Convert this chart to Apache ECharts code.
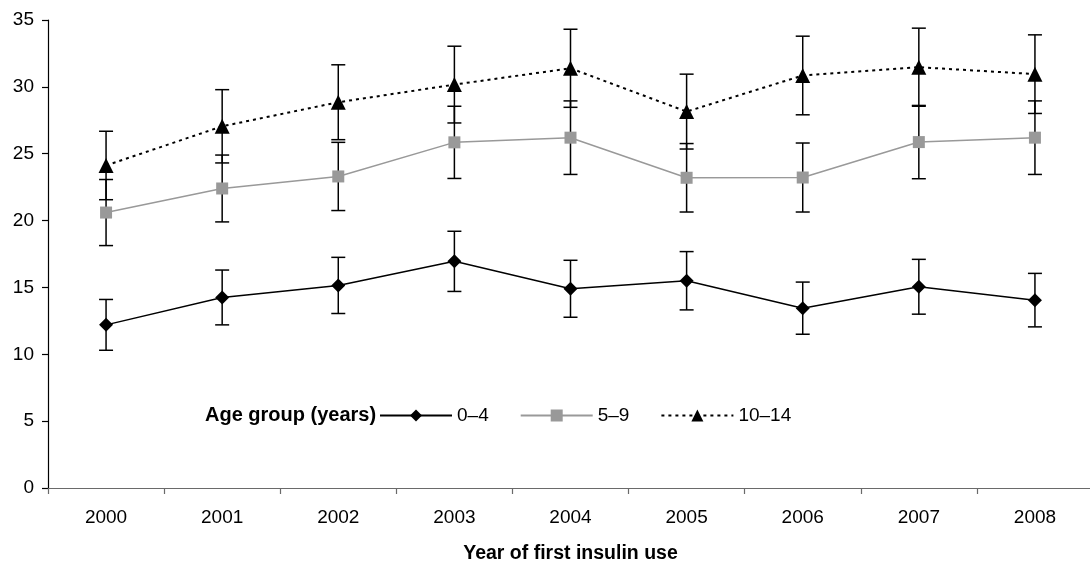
<!DOCTYPE html>
<html>
<head>
<meta charset="utf-8">
<script src="https://cdn.jsdelivr.net/npm/echarts@6/dist/echarts.min.js"></script>
<style>
html,body{margin:0;padding:0;background:#fff;}
#chart{width:1090px;height:562px;}
</style>
</head>
<body>
<div id="chart"></div>
<script>
// ---- data ----
const years = ['2000','2001','2002','2003','2004','2005','2006','2007','2008'];
const seriesNames = ['0–4', '5–9', '10–14'];
const age0to4 = [12.2, 14.25, 15.15, 16.95, 14.9, 15.5, 13.45, 15.05, 14.05];
const err0to4 = [1.9, 2.05, 2.1, 2.25, 2.13, 2.18, 1.95, 2.05, 2.0];
const age5to9 = [20.6, 22.4, 23.3, 25.85, 26.2, 23.2, 23.22, 25.87, 26.2];
const err5to9 = [2.47, 2.5, 2.55, 2.7, 2.75, 2.56, 2.58, 2.74, 2.75];
const age10to14 = [24.12, 27.05, 28.85, 30.17, 31.39, 28.15, 30.85, 31.47, 30.95];
const err10to14 = [2.56, 2.74, 2.8, 2.87, 2.92, 2.8, 2.94, 2.92, 2.94];
const yTicks = [0, 5, 10, 15, 20, 25, 30, 35];
const xTitle = 'Year of first insulin use';
const legendTitle = 'Age group (years)';

const FONT = '"Liberation Sans", Arial, sans-serif';

function errData(vals, errs) {
  return vals.map((v, i) => [i, v - errs[i], v + errs[i]]);
}
function errorSeries(vals, errs) {
  return {
    type: 'custom',
    z: 1,
    silent: true,
    data: errData(vals, errs),
    encode: { x: 0, y: [1, 2] },
    renderItem: function (params, api) {
      const i = api.value(0);
      const lo = api.coord([i, api.value(1)]);
      const hi = api.coord([i, api.value(2)]);
      const hw = 7;
      const st = { stroke: '#000', lineWidth: 1.5, fill: null };
      return {
        type: 'group',
        children: [
          { type: 'line', shape: { x1: lo[0], y1: lo[1], x2: hi[0], y2: hi[1] }, style: st },
          { type: 'line', shape: { x1: lo[0] - hw, y1: lo[1], x2: lo[0] + hw, y2: lo[1] }, style: st },
          { type: 'line', shape: { x1: hi[0] - hw, y1: hi[1], x2: hi[0] + hw, y2: hi[1] }, style: st }
        ]
      };
    }
  };
}

const chart = echarts.init(document.getElementById('chart'), null, { renderer: 'canvas' });
chart.setOption({
  animation: false,
  backgroundColor: '#fff',
  textStyle: { fontFamily: FONT },
  grid: { left: 48, right: -3, top: 20, bottom: 74, containLabel: false, outerBoundsMode: 'none' },
  xAxis: {
    type: 'category',
    data: years,
    boundaryGap: true,
    axisLine: { lineStyle: { color: '#6a6a6a', width: 1.2 } },
    axisTick: { show: true, length: 6, lineStyle: { color: '#6a6a6a', width: 1.2 } },
    axisLabel: { color: '#000', fontSize: 19, fontFamily: FONT, margin: 20 },
    name: xTitle,
    nameLocation: 'middle',
    nameGap: 56,
    nameTextStyle: { color: '#000', fontSize: 19.5, fontWeight: 'bold', fontFamily: FONT }
  },
  yAxis: {
    type: 'value',
    min: yTicks[0],
    max: yTicks[yTicks.length - 1],
    interval: yTicks[1] - yTicks[0],
    axisLine: { show: true, lineStyle: { color: '#000', width: 1.2 } },
    axisTick: { show: true, length: 6, lineStyle: { color: '#000', width: 1.2 } },
    axisLabel: { color: '#000', fontSize: 19, fontFamily: FONT, margin: 14 },
    splitLine: { show: false }
  },
  legend: {
    left: 374,
    top: 401,
    itemWidth: 72,
    itemHeight: 15,
    itemGap: 31,
    textStyle: { color: '#000', fontSize: 19, fontFamily: FONT },
    data: seriesNames
  },
  graphic: [{
    type: 'text',
    left: 205,
    top: 405,
    style: { text: legendTitle, fill: '#000', font: 'bold 20px ' + FONT }
  }],
  series: [
    errorSeries(age0to4, err0to4),
    errorSeries(age5to9, err5to9),
    errorSeries(age10to14, err10to14),
    {
      name: seriesNames[0], type: 'line', z: 3, data: age0to4,
      symbol: 'diamond', symbolSize: 14,
      lineStyle: { color: '#000', width: 1.5 },
      itemStyle: { color: '#000' }
    },
    {
      name: seriesNames[1], type: 'line', z: 3, data: age5to9,
      symbol: 'rect', symbolSize: 12,
      lineStyle: { color: '#999', width: 1.5 },
      itemStyle: { color: '#999' }
    },
    {
      name: seriesNames[2], type: 'line', z: 3, data: age10to14,
      symbol: 'triangle', symbolSize: 15,
      lineStyle: { color: '#000', width: 2, type: [3, 4] },
      itemStyle: { color: '#000' }
    }
  ]
});
</script>
</body>
</html>
